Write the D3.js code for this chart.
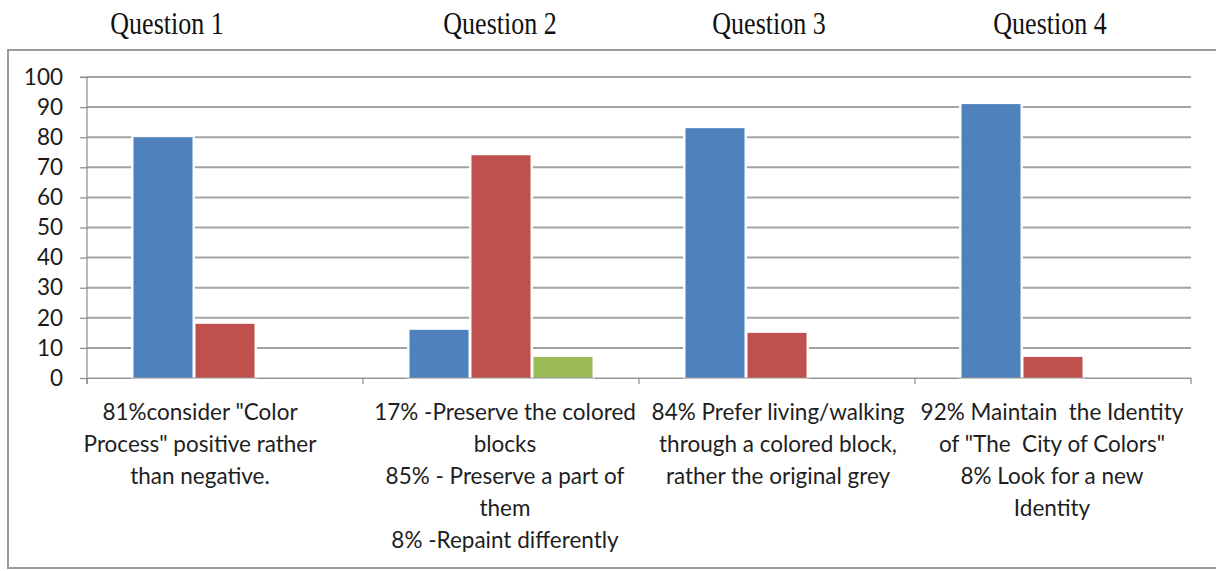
<!DOCTYPE html>
<html><head><meta charset="utf-8">
<script src="https://cdn.jsdelivr.net/npm/d3@7"></script>
<style>
body{margin:0;background:#fff;}
text{white-space:pre;}
</style></head>
<body><svg id="c" width="1216" height="571"></svg>
<script>
const categories = ["Q1","Q2","Q3","Q4"];
const titles = ["Question 1","Question 2","Question 3","Question 4"];
const seriesNames = ["s1","s2","s3"];
const series1 = [80, 16, 83, 91];
const series2 = [18, 74, 15, 7];
const series3 = [0, 7, 0, 0];
const yTicks = [0,10,20,30,40,50,60,70,80,90,100];
const labelLines = [
  ["81%consider \"Color", "Process\" positive rather", "than negative."],
  ["17% -Preserve the colored", "blocks", "85% - Preserve a part of", "them", "8% -Repaint differently"],
  ["84% Prefer living/walking", "through a colored block,", "rather the original grey"],
  ["92% Maintain  the Identity", "of \"The  City of Colors\"", "8% Look for a new", "Identity"]
];
const colors = ["#4F81BD","#C0504D","#9BBB59"];

const svg = d3.select("#c");
const plot = {left:87, right:1191, top:77, bottom:378};

// frame
svg.append("rect").attr("x",8).attr("y",50).attr("width",1212).attr("height",518)
  .attr("fill","none").attr("stroke","#9a9a9a").attr("stroke-width",2);

const x = d3.scaleBand().domain(categories).range([plot.left, plot.right]).padding(0);
const xs = d3.scaleBand().domain(seriesNames).range([0, x.bandwidth()]).paddingInner(0.048).paddingOuter(0.75);
const y = d3.scaleLinear().domain([0,100]).range([plot.bottom, plot.top]);

// gridlines
svg.append("g").selectAll("line").data(yTicks.filter(d=>d>0)).join("line")
  .attr("x1",plot.left).attr("x2",plot.right)
  .attr("y1",d=>y(d)).attr("y2",d=>y(d))
  .attr("stroke","#a3a3a3").attr("stroke-width",2);

// y axis
const yAxis = svg.append("g").attr("transform",`translate(${plot.left},0)`)
  .call(d3.axisLeft(y).tickValues(yTicks).tickSize(7).tickPadding(18));
yAxis.select(".domain").attr("stroke","#8c8c8c").attr("stroke-width",1.2).attr("d",`M-7,${plot.top}H0V${plot.bottom+6}`);
yAxis.selectAll(".tick line").attr("stroke","#8c8c8c").attr("stroke-width",1.2);
yAxis.selectAll(".tick text").attr("font-family","Lato, sans-serif").attr("font-size",22.5).attr("fill","#1a1a1a").attr("x",-24);

// x axis
const xAxis = svg.append("g").attr("transform",`translate(0,${plot.bottom})`)
  .call(d3.axisBottom(x).tickSize(0).tickFormat(""));
xAxis.select(".domain").attr("stroke","#8c8c8c").attr("stroke-width",1.2);
const bounds = categories.map(c=>x(c)).concat([plot.right]);
xAxis.append("g").selectAll("line").data(bounds).join("line")
  .attr("x1",d=>d).attr("x2",d=>d).attr("y1",0).attr("y2",6)
  .attr("stroke","#8c8c8c").attr("stroke-width",1.2);

// bars
const seriesData = [series1, series2, series3];
const barG = svg.append("g");
seriesData.forEach((vals, si) => {
  barG.append("g").selectAll("rect").data(vals.map((v,i)=>({v, c:categories[i]})).filter(d=>d.v>0)).join("rect")
    .attr("x", d=>x(d.c)+xs(seriesNames[si]))
    .attr("width", xs.bandwidth())
    .attr("y", d=>y(d.v))
    .attr("height", d=>y(0)-y(d.v))
    .attr("fill", colors[si])
    .attr("stroke","rgba(255,255,255,0.9)").attr("stroke-width",5)
    .style("paint-order","stroke");
});
svg.append("line").attr("x1",plot.left).attr("x2",plot.right).attr("y1",plot.bottom).attr("y2",plot.bottom)
  .attr("stroke","#9a9a9a").attr("stroke-width",1);

// category labels
const labelShift = [-25, 4, 1, -1];
const lg = svg.append("g").attr("font-family","Lato, sans-serif").attr("font-size",22.5).attr("fill","#1e1e1e").attr("text-anchor","middle");
categories.forEach((c,i)=>{
  const cx = x(c)+x.bandwidth()/2+labelShift[i];
  const t = lg.append("text").attr("x", cx).attr("y", 420);
  labelLines[i].forEach((ln,j)=>{
    t.append("tspan").attr("x", cx).attr("y", 420+j*32).text(ln);
  });
});

// question titles
const titleX = [167, 500, 769, 1050];
svg.append("g").selectAll("text").data(titles).join("text")
  .attr("transform",(d,i)=>`translate(${titleX[i]},34) scale(1,1.18)`)
  .attr("text-anchor","middle")
  .attr("font-family","'Liberation Serif', 'Times New Roman', serif")
  .attr("font-size",26).attr("fill","#111")
  .text(d=>d);
</script></body></html>
